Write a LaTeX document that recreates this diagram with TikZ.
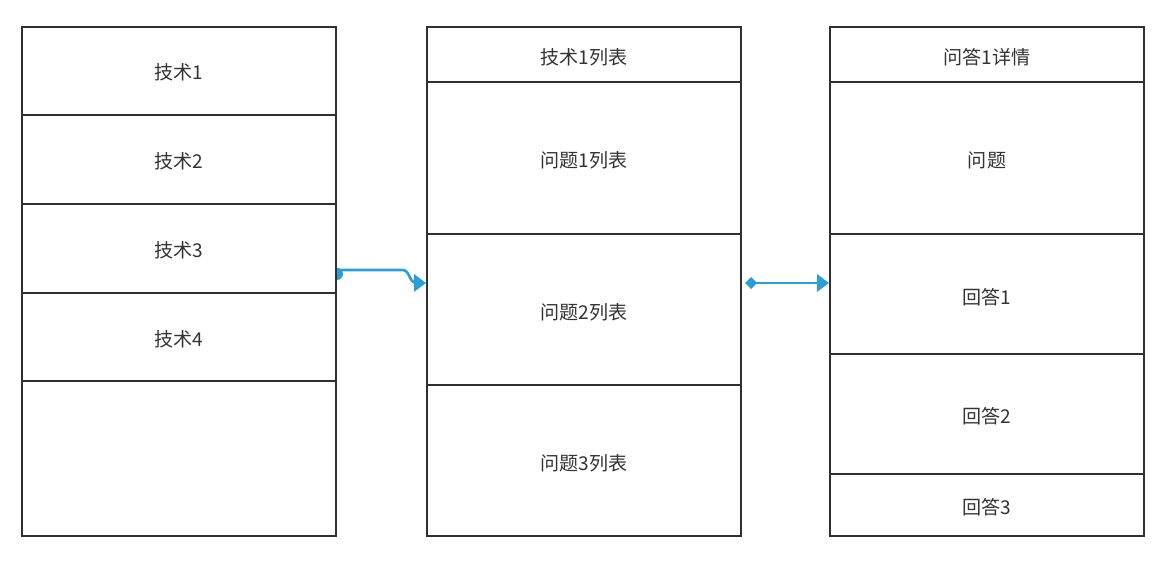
\documentclass[tikz,border=0pt]{standalone}
\usepackage{fontspec}
\newfontfamily\cjk{Noto Sans CJK SC}
\usetikzlibrary{arrows.meta}
\definecolor{lnk}{HTML}{2A9FD6}
\definecolor{txt}{HTML}{333333}
\definecolor{brd}{HTML}{303030}
\begin{document}
\begin{tikzpicture}[x=0.75pt,y=-0.75pt,
  cell/.style={draw=brd,line width=1.1pt,fill=white,inner sep=0pt,outer sep=0pt},
  lbl/.style={font=\cjk\fontsize{14.3}{17}\selectfont,text=txt},
  link/.style={draw=lnk,line width=1.9pt},
  tip/.style={-{Triangle[length=9pt,width=13pt]}}]
\useasboundingbox[fill=white] (0,0) rectangle (1171,570);
% left column
\draw[cell] (22,27) rectangle (336,536);
\foreach \y in {115,204,293,381} \draw[brd,line width=1.3pt] (22,\y) -- (336,\y);
\node[lbl] (t1) at (179,72) {技术1};
\node[lbl] (t2) at (179,161) {技术2};
\node[lbl] (t3) at (179,250) {技术3};
\node[lbl] (t4) at (179,339) {技术4};
% middle column
\draw[cell] (427,27) rectangle (741,536);
\foreach \y in {82,234,385} \draw[brd,line width=1.3pt] (427,\y) -- (741,\y);
\node[lbl] (m0) at (584,57) {技术1列表};
\node[lbl] (m1) at (584,160) {问题1列表};
\node[lbl] (m2) at (584,312) {问题2列表};
\node[lbl] (m3) at (584,463) {问题3列表};
% right column
\draw[cell] (830,27) rectangle (1144,536);
\foreach \y in {82,234,354,474} \draw[brd,line width=1.3pt] (830,\y) -- (1144,\y);
\node[lbl] (r0) at (987,57) {问答1详情};
\node[lbl] (r1) at (987,160) {问题};
\node[lbl] (r2) at (987,297) {回答1};
\node[lbl] (r3) at (987,416) {回答2};
\node[lbl] (r4) at (987,507) {回答3};
% connectors
\coordinate (a0) at (338,270);
\coordinate (a1) at (426,283);
\coordinate (b0) at (745,283);
\coordinate (b1) at (829,283);
\draw[link,tip]
  (a0) -- (402,270) .. controls (411,270) and (408,283) .. (417,283) -- (a1);
\fill[lnk] (337,268) arc[start angle=-90,end angle=90,radius=6] -- cycle;
\draw[link,{Diamond[length=9pt,width=9pt]}-{Triangle[length=9pt,width=13pt]}] (b0) -- (b1);
\end{tikzpicture}
\end{document}
